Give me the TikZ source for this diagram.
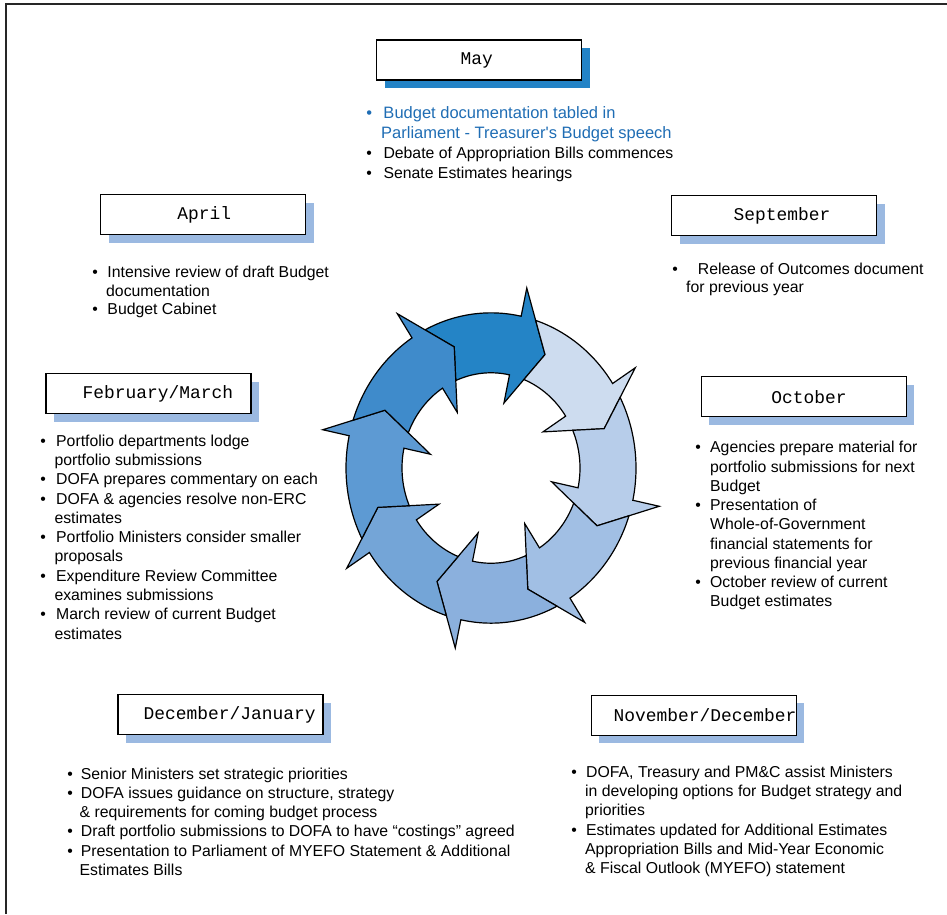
\documentclass[tikz,border=0pt]{standalone}
\usepackage{fontspec}
\setmainfont{Liberation Sans}
\setmonofont{Liberation Mono}
\usetikzlibrary{shadows}

% ring segment colours, darkest (May) first, going clockwise
\definecolor{arA}{HTML}{2484C6}
\definecolor{arB}{HTML}{CDDCEF}
\definecolor{arC}{HTML}{B7CDEA}
\definecolor{arD}{HTML}{A1BFE4}
\definecolor{arE}{HTML}{8BB0DD}
\definecolor{arF}{HTML}{74A5D7}
\definecolor{arG}{HTML}{5D9AD3}
\definecolor{arH}{HTML}{3F8BCB}
\definecolor{shadowlight}{HTML}{9BB9E1}
\definecolor{shadowdark}{HTML}{2383C6}
\definecolor{mayblue}{HTML}{1F6DB4}

% bullet set in a box of the given width (pt)
\newcommand\bul[1]{\makebox[#1pt][l]{\textbullet}}
\newcommand\ind[1]{\hspace*{#1pt}}

\begin{document}
\begin{tikzpicture}[x=1pt,y=-1pt,
  monthbox/.style={draw=black, line width=1.4pt, fill=white,
    minimum height=40pt, text width=205pt, inner xsep=0pt, inner ysep=0pt,
    align=left, anchor=north west,
    font=\ttfamily\fontsize{17.9}{20}\selectfont,
    drop shadow={shadow xshift=8pt, shadow yshift=-8pt, opacity=1, fill=shadowlight}},
  maybox/.style={monthbox,
    drop shadow={shadow xshift=8pt, shadow yshift=-8pt, opacity=1, fill=shadowdark}},
  blk/.style={anchor=north west, inner sep=0pt, align=left},
  seg/.style={draw=black, line width=1.2pt, line join=miter}
]
\useasboundingbox (0,0) rectangle (947,914);

% page frame (top and left edges)
\draw[line width=2pt, black!85] (6,914) -- (6,4) -- (947,4);

% ---------------- cycle of eight arrows ----------------
\begin{scope}[shift={(491,468)}, yscale=-1.07]
  \foreach \p/\c in {63/arA, 18/arB, -27/arC, -72/arD, -117/arE, -162/arF, -207/arG, -252/arH}{
    \path[seg, fill=\c]
      ({\p+54.06}:145) arc[start angle={\p+54.06}, end angle={\p+15}, radius=145]
      -- ({\p+15}:172) -- (\p:119) -- ({\p+15}:62) -- ({\p+15}:89)
      arc[start angle={\p+15}, end angle={\p+50.32}, radius=89]
      -- ({\p+45}:119) -- cycle;
  }
\end{scope}

% ---------------- month boxes ----------------
\node[maybox]   (may)  at (376,39.3)  {\ind{84}May};
\node[monthbox] (apr)  at (100,194)   {\ind{76.7}April};
\node[monthbox] (sep)  at (671,195)   {\ind{62}September};
\node[monthbox] (oct)  at (700.7,376) {\ind{70}October};
\node[monthbox] (feb)  at (45.3,373)  {\ind{36.7}February/March};
\node[monthbox] (dec)  at (117.3,694) {\ind{25.7}December/January};
\node[monthbox] (nov)  at (590.7,694.7) {\ind{22.3}November/December};

% ---------------- activity lists ----------------
\node[blk, font=\fontsize{15.8}{20}\selectfont] (mayt) at (366.2,106.5)
  {{\color{mayblue}\fontsize{16.5}{20}\selectfont\bul{17.1}Budget documentation tabled in}\\
   {\color{mayblue}\fontsize{16.5}{20}\selectfont\ind{14.8}Parliament - Treasurer\textquotesingle s Budget speech}\\
   \bul{17.1}Debate of Appropriation Bills commences\\
   \bul{17.1}Senate Estimates hearings};

\node[blk, font=\fontsize{15.8}{18.3}\selectfont] (aprt) at (92.2,266.2)
  {\bul{15.1}Intensive review of draft Budget\\
   \ind{13.8}documentation\\
   \bul{15.1}Budget Cabinet};

\node[blk, font=\fontsize{15.8}{18}\selectfont] (sept) at (672.2,262.8)
  {\bul{25.5}Release of Outcomes document\\
   \ind{13.8}for previous year};

\node[blk, font=\fontsize{15.8}{19.25}\selectfont] (octt) at (695.2,441.2)
  {\bul{14.8}Agencies prepare material for\\
   \ind{14.8}portfolio submissions for next\\
   \ind{14.8}Budget\\
   \bul{14.8}Presentation of\\
   \ind{14.8}Whole-of-Government\\
   \ind{14.8}financial statements for\\
   \ind{14.8}previous financial year\\
   \bul{14.8}October review of current\\
   \ind{14.8}Budget estimates};

\node[blk, font=\fontsize{15.8}{19.3}\selectfont] (febt) at (40.2,434.5)
  {\bul{15.8}Portfolio departments lodge\\
   \ind{14.1}portfolio submissions\\
   \bul{15.8}DOFA prepares commentary on each\\
   \bul{15.8}DOFA \& agencies resolve non-ERC\\
   \ind{14.1}estimates\\
   \bul{15.8}Portfolio Ministers consider smaller\\
   \ind{14.1}proposals\\
   \bul{15.8}Expenditure Review Committee\\
   \ind{14.1}examines submissions\\
   \bul{15.8}March review of current Budget\\
   \ind{14.1}estimates};

\node[blk, font=\fontsize{15.8}{19.15}\selectfont] (dect) at (67.2,767.8)
  {\bul{13.5}Senior Ministers set strategic priorities\\
   \bul{13.5}DOFA issues guidance on structure, strategy\\
   \ind{12.3}\& requirements for coming budget process\\
   \bul{13.5}Draft portfolio submissions to DOFA to have “costings” agreed\\
   \bul{13.5}Presentation to Parliament of MYEFO Statement \& Additional\\
   \ind{12.3}Estimates Bills};

\node[blk, font=\fontsize{15.8}{19.2}\selectfont] (novt) at (571.2,765.8)
  {\bul{14.8}DOFA, Treasury and PM\&C assist Ministers\\
   \ind{13.8}in developing options for Budget strategy and\\
   \ind{13.8}priorities\\
   \bul{14.8}Estimates updated for Additional Estimates\\
   \ind{13.8}Appropriation Bills and Mid-Year Economic\\
   \ind{13.8}\& Fiscal Outlook (MYEFO) statement};

\end{tikzpicture}
\end{document}
